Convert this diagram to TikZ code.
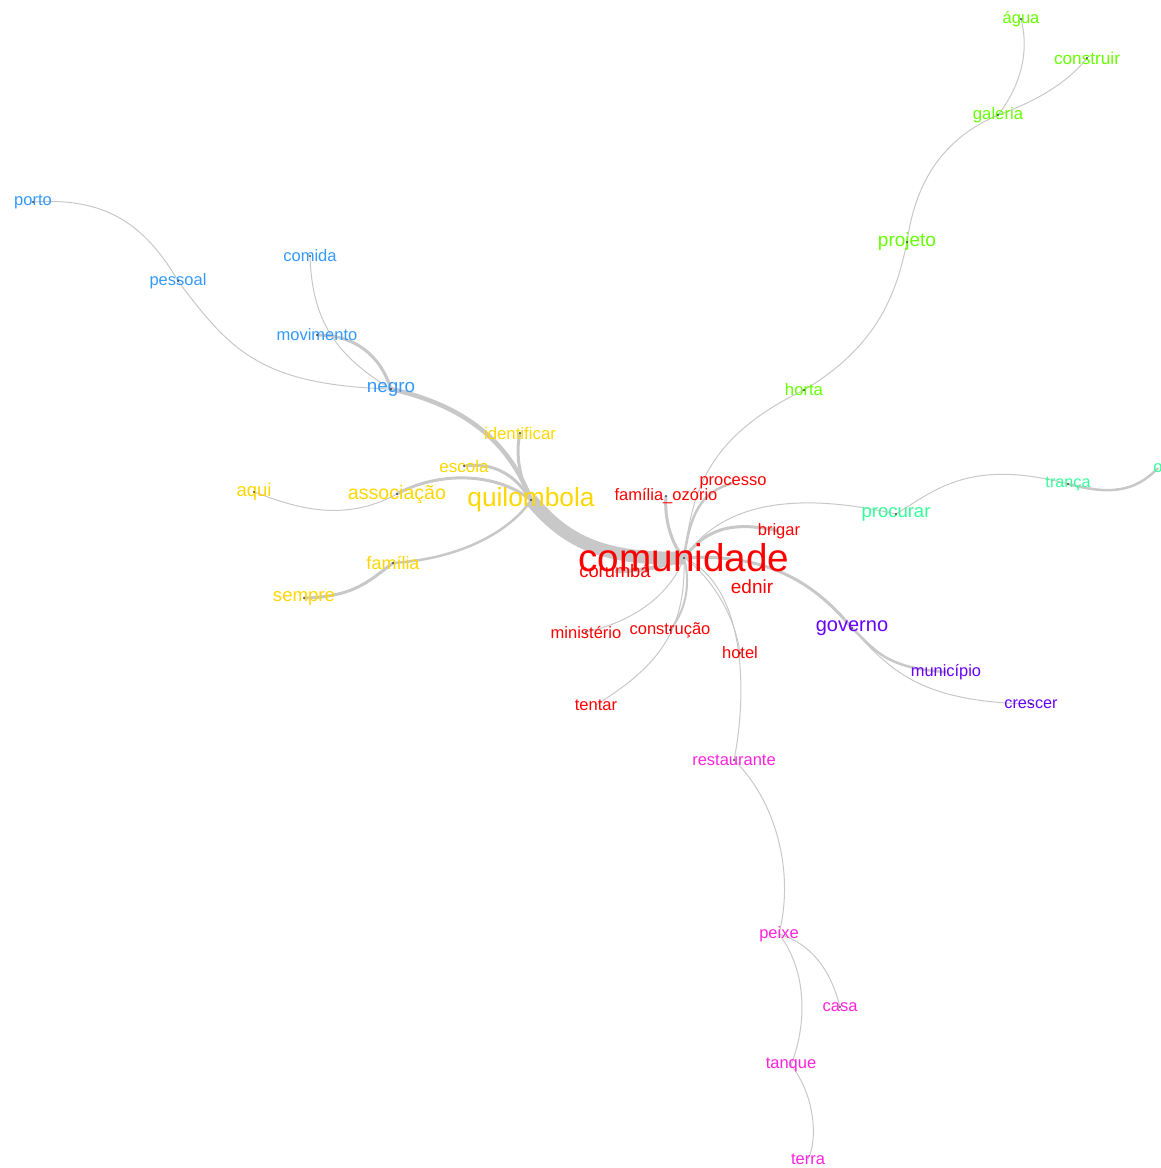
\documentclass[tikz,border=0pt]{standalone}
\usepackage{fontspec}
\setmainfont{Liberation Sans}
\usetikzlibrary{backgrounds}
\definecolor{cinza}{RGB}{200,200,200}
\definecolor{vermelho}{HTML}{FF0000}
\definecolor{amarelo}{HTML}{FFD700}
\definecolor{azul}{HTML}{3399FF}
\definecolor{verde}{HTML}{66FF00}
\definecolor{menta}{HTML}{33FF99}
\definecolor{roxo}{HTML}{6600FF}
\definecolor{rosa}{HTML}{FF22DD}
\begin{document}
\begin{tikzpicture}[x=1pt,y=-1pt,
	w/.style={inner sep=0pt,yshift=-2pt,font=\fontsize{#1}{#1}\selectfont},
	w/.default=16.5,
	lig/.style={draw=cinza,line width=#1},
	lig/.default=1pt]
  %moldura
	\useasboundingbox (0,0) rectangle (1161,1168);

  %grupo comunidade
	\node[w=18.3,text=vermelho] (corumba) at (615,569) {corumbá};
	\node[w=38.7,text=vermelho] (comunidade) at (684,556) {comunidade};
	\node[w,text=vermelho] (familiaoz) at (666,494) {família\_ozório};
	\node[w,text=vermelho] (processo) at (733,481) {processo};
	\node[w,text=vermelho] (brigar) at (779,529) {brigar};
	\node[w=19,text=vermelho] (ednir) at (752,585) {ednir};
	\node[w,text=vermelho] (ministerio) at (586,630) {ministério};
	\node[w,text=vermelho] (construcao) at (670,628) {construção};
	\node[w,text=vermelho] (hotel) at (740,651) {hotel};
	\node[w,text=vermelho] (tentar) at (596,703) {tentar};

  %grupo quilombola
	\node[w=26.3,text=amarelo] (quilombola) at (531,498) {quilombola};
	\node[w=16.8,text=amarelo] (identificar) at (520,431) {identificar};
	\node[w=17,text=amarelo] (escola) at (464,464) {escola};
	\node[w=19.6,text=amarelo] (associacao) at (397,492) {associação};
	\node[w=18.5,text=amarelo] (aqui) at (254,490) {aqui};
	\node[w=18,text=amarelo] (familia) at (393,561) {família};
	\node[w=18.6,text=amarelo] (sempre) at (304,596) {sempre};

  %grupo negro
	\node[w=18.8,text=azul] (negro) at (391,387) {negro};
	\node[w,text=azul] (movimento) at (317,333) {movimento};
	\node[w,text=azul] (comida) at (310,254) {comida};
	\node[w,text=azul] (pessoal) at (178,279) {pessoal};
	\node[w,text=azul] (porto) at (33,200) {porto};

  %grupo projeto
	\node[w=16.7,text=verde] (horta) at (804,388) {horta};
	\node[w=19,text=verde] (projeto) at (907,240) {projeto};
	\node[w=16.7,text=verde] (galeria) at (998,113) {galeria};
	\node[w,text=verde] (agua) at (1021,17) {água};
	\node[w=17.2,text=verde] (construir) at (1087,56) {construir};

  %grupo procurar
	\node[w=18.5,text=menta] (procurar) at (896,512) {procurar};
	\node[w=16.2,text=menta] (tranca) at (1068,482) {trança};
	\node[w,text=menta] (ofim) at (1158,466) {o};

  %grupo governo
	\node[w=20,text=roxo] (governo) at (852,626) {governo};
	\node[w=16.4,text=roxo] (municipio) at (946,670) {município};
	\node[w=16.2,text=roxo] (crescer) at (1031,702) {crescer};

  %grupo restaurante
	\node[w,text=rosa] (restaurante) at (734,758) {restaurante};
	\node[w,text=rosa] (peixe) at (779,932) {peixe};
	\node[w,text=rosa] (casa) at (840,1005) {casa};
	\node[w,text=rosa] (tanque) at (791,1063) {tanque};
	\node[w,text=rosa] (terra) at (808,1157) {terra};

  %ligacoes
  \begin{scope}[on background layer]
	\draw[lig=13pt] (quilombola.center) .. controls (565,540) and (600,560) .. (comunidade.center);
	\draw[lig=4.5pt] (quilombola.center) .. controls (512,450) and (475,408) .. (negro.center);
	\draw[lig=3pt] (movimento.center) .. controls (355,335) and (380,355) .. (negro.center);
	\draw[lig] (comida.center) .. controls (312,320) and (335,355) .. (negro.center);
	\draw[lig] (pessoal.center) .. controls (230,350) and (260,385) .. (negro.center);
	\draw[lig] (porto.center) .. controls (95,198) and (140,215) .. (pessoal.center);
	\draw[lig=3pt] (quilombola.center) .. controls (520,480) and (515,455) .. (identificar.center);
	\draw[lig=3pt] (quilombola.center) .. controls (515,475) and (495,462) .. (escola.center);
	\draw[lig=3pt] (quilombola.center) .. controls (490,468) and (430,475) .. (associacao.center);
	\draw[lig] (associacao.center) .. controls (340,525) and (290,505) .. (aqui.center);
	\draw[lig=2.5pt] (quilombola.center) .. controls (515,525) and (470,558) .. (familia.center);
	\draw[lig=3pt] (familia.center) .. controls (370,580) and (355,597) .. (sempre.center);

	\draw[lig=4pt] (comunidade.center) .. controls (670,565) and (640,572) .. (corumba.center);
	\draw[lig=3pt] (comunidade.center) .. controls (672,545) and (664,520) .. (familiaoz.center);
	\draw[lig=2.5pt] (comunidade.center) .. controls (690,515) and (700,492) .. (processo.center);
	\draw[lig] (comunidade.center) .. controls (692,500) and (700,440) .. (horta.center);
	\draw[lig] (horta.center) .. controls (880,345) and (897,290) .. (projeto.center);
	\draw[lig] (projeto.center) .. controls (915,185) and (940,140) .. (galeria.center);
	\draw[lig] (galeria.center) .. controls (1025,80) and (1028,45) .. (agua.center);
	\draw[lig] (galeria.center) .. controls (1040,100) and (1070,80) .. (construir.center);
	\draw[lig=3pt] (comunidade.center) .. controls (705,530) and (730,520) .. (brigar.center);
	\draw[lig] (comunidade.center) .. controls (720,505) and (790,490) .. (procurar.center);
	\draw[lig] (procurar.center) .. controls (935,490) and (970,458) .. (tranca.center);
	\draw[lig=2.5pt] (tranca.center) .. controls (1110,495) and (1135,492) .. (ofim.center);
	\draw[lig=3pt] (comunidade.center) .. controls (775,552) and (820,590) .. (governo.center);
	\draw[lig=2.5pt] (governo.center) .. controls (875,650) and (885,668) .. (municipio.center);
	\draw[lig] (governo.center) .. controls (890,670) and (920,702) .. (crescer.center);
	\draw[lig] (comunidade.center) .. controls (672,590) and (640,620) .. (ministerio.center);
	\draw[lig=2pt] (comunidade.center) .. controls (690,580) and (688,608) .. (construcao.center);
	\draw[lig] (comunidade.center) .. controls (686,630) and (660,665) .. (tentar.center);
	\draw[lig] (comunidade.center) .. controls (710,575) and (735,615) .. (hotel.center);
	\draw[lig] (comunidade.center) .. controls (745,585) and (748,690) .. (restaurante.center);
	\draw[lig] (restaurante.center) .. controls (775,800) and (795,870) .. (peixe.center);
	\draw[lig] (peixe.center) .. controls (815,945) and (832,975) .. (casa.center);
	\draw[lig] (peixe.center) .. controls (810,975) and (805,1030) .. (tanque.center);
	\draw[lig] (tanque.center) .. controls (815,1095) and (818,1140) .. (terra.center);
  \end{scope}

  %pontos
	\foreach \v in {comunidade,quilombola,negro,movimento,comida,pessoal,porto,identificar,escola,associacao,aqui,familia,sempre,familiaoz,ministerio,construcao,hotel,restaurante,casa,horta,projeto,galeria,agua,construir,procurar,tranca,governo,crescer}
		\fill (\v.center) circle (0.9);
\end{tikzpicture}
\end{document}
